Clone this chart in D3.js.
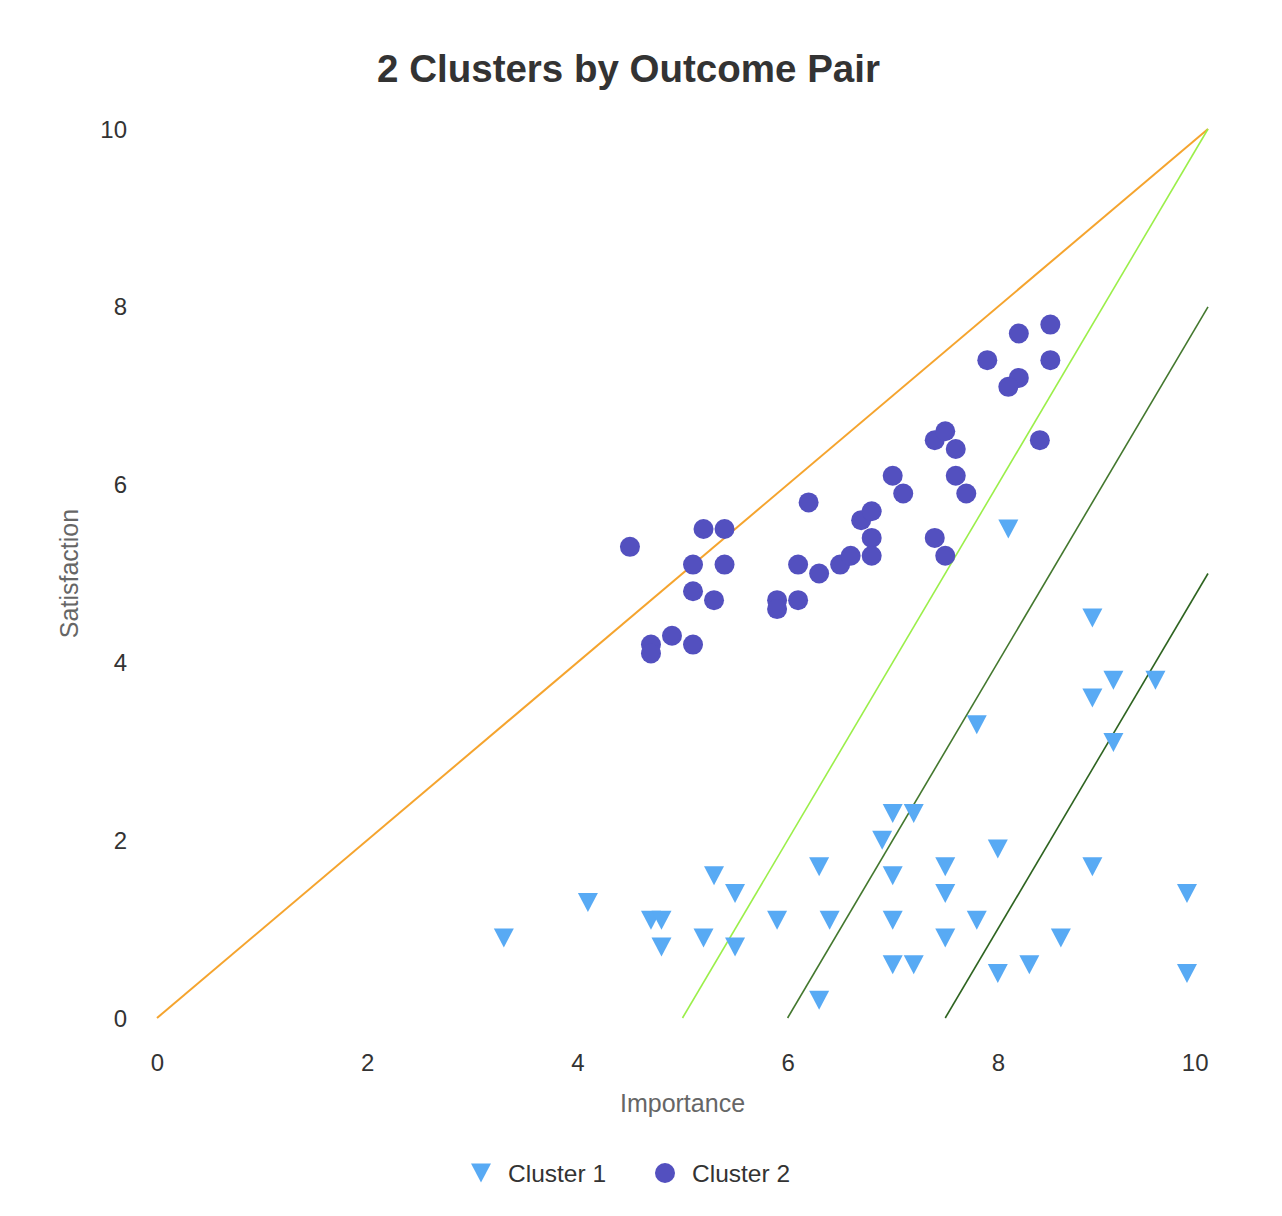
<!DOCTYPE html>
<html>
<head>
<meta charset="utf-8">
<script src="https://cdn.jsdelivr.net/npm/d3@7"></script>
<style>
  html, body { margin: 0; padding: 0; background: #fff; }
  svg { display: block; font-family: "Liberation Sans", Arial, Helvetica, sans-serif; }
</style>
</head>
<body>
<div id="chart"></div>
<script>
// ---------- data ----------
const chartTitle = "2 Clusters by Outcome Pair";
const xTitle = "Importance";
const yTitle = "Satisfaction";
const xTicks = [0, 2, 4, 6, 8, 10];
const yTicks = [0, 2, 4, 6, 8, 10];

// Cluster 1 (triangles): [importance, satisfaction]
const cluster1 = [
  [8.1, 5.5], [8.9, 4.5], [9.1, 3.8], [9.5, 3.8], [8.9, 3.6], [7.8, 3.3], [9.1, 3.1],
  [7.0, 2.3], [7.2, 2.3], [6.9, 2.0], [8.0, 1.9], [6.3, 1.7], [7.5, 1.7], [8.9, 1.7],
  [5.3, 1.6], [7.0, 1.6], [5.5, 1.4], [7.5, 1.4], [9.8, 1.4], [4.1, 1.3], [4.7, 1.1],
  [4.8, 1.1], [5.9, 1.1], [6.4, 1.1], [7.0, 1.1], [7.8, 1.1], [3.3, 0.9], [5.2, 0.9],
  [7.5, 0.9], [8.6, 0.9], [4.8, 0.8], [5.5, 0.8], [7.0, 0.6], [7.2, 0.6], [8.3, 0.6],
  [8.0, 0.5], [9.8, 0.5], [6.3, 0.2]
];

// Cluster 2 (circles): [importance, satisfaction]
const cluster2 = [
  [4.5, 5.3], [5.2, 5.5], [5.4, 5.5], [5.1, 5.1], [5.4, 5.1], [5.1, 4.8], [5.3, 4.7],
  [4.7, 4.2], [4.7, 4.1], [4.9, 4.3], [5.1, 4.2], [6.2, 5.8], [5.9, 4.7], [5.9, 4.6],
  [6.1, 5.1], [6.1, 4.7], [6.3, 5.0], [6.5, 5.1], [6.6, 5.2], [6.7, 5.6], [6.8, 5.7],
  [6.8, 5.4], [6.8, 5.2], [7.0, 6.1], [7.1, 5.9], [7.4, 6.5], [7.5, 6.6], [7.6, 6.4],
  [7.6, 6.1], [7.7, 5.9], [7.4, 5.4], [7.5, 5.2], [7.9, 7.4], [8.2, 7.7], [8.5, 7.8],
  [8.5, 7.4], [8.2, 7.2], [8.1, 7.1], [8.4, 6.5]
];

// Reference lines (endpoints in data units)
const refLineNames = ["diagonal", "opportunity 10", "opportunity 12", "opportunity 15"];
const refLinePoints = [
  [[0, 0], [10, 10]],
  [[5, 0], [10, 10]],
  [[6, 0], [10, 8]],
  [[7.5, 0], [10, 5]]
];
const refLineColors = ["#f5a42e", "#9bef4a", "#43782e", "#2e6420"];

const seriesNames = ["Cluster 1", "Cluster 2"];
const seriesColors = ["#58aaf4", "#5350bf"];

// ---------- layout ----------
const W = 1282, H = 1216;
const plot = { left: 157, right: 1208, top: 129, bottom: 1018 };

const svg = d3.select("#chart").append("svg")
  .attr("width", W).attr("height", H);

const x = d3.scaleLinear().domain([0, 10]).range([plot.left, plot.right]);
const y = d3.scaleLinear().domain([0, 10]).range([plot.bottom, plot.top]);

// title
svg.append("text")
  .attr("x", 628.5).attr("y", 82)
  .attr("text-anchor", "middle")
  .attr("font-size", 38.5).attr("font-weight", "bold")
  .attr("fill", "#333333")
  .text(chartTitle);

// axes (labels only)
const xAxis = d3.axisBottom(x).tickValues(xTicks).tickSize(0).tickPadding(0).tickFormat(d3.format("d"));
const gx = svg.append("g").attr("transform", `translate(0,${plot.bottom})`).call(xAxis);
gx.select(".domain").remove();
gx.selectAll("text")
  .attr("font-size", 24).attr("fill", "#333").attr("font-family", null)
  .attr("dy", null).attr("y", 53)
  .attr("text-anchor", d => d === 10 ? "end" : "middle");

const yAxis = d3.axisLeft(y).tickValues(yTicks).tickSize(0).tickPadding(0).tickFormat(d3.format("d"));
const gy = svg.append("g").attr("transform", `translate(${plot.left - 30},0)`).call(yAxis);
gy.select(".domain").remove();
gy.selectAll("text")
  .attr("font-size", 24).attr("fill", "#333").attr("font-family", null)
  .attr("dy", "0.34em").attr("x", 0);

// axis titles
svg.append("text")
  .attr("x", (plot.left + plot.right) / 2).attr("y", 1112)
  .attr("text-anchor", "middle").attr("font-size", 25).attr("fill", "#666")
  .text(xTitle);
svg.append("text")
  .attr("transform", `translate(78,${(plot.top + plot.bottom) / 2}) rotate(-90)`)
  .attr("text-anchor", "middle").attr("font-size", 25).attr("fill", "#666")
  .text(yTitle);

// reference lines
const line = d3.line().x(d => x(d[0])).y(d => y(d[1]));
svg.append("g").selectAll("path")
  .data(refLinePoints)
  .join("path")
  .attr("d", line)
  .attr("fill", "none")
  .attr("stroke", (d, i) => refLineColors[i])
  .attr("stroke-width", (d, i) => i === 0 ? 2 : 1.6);

// markers
const triPath = (cx, cy) => `M${cx - 10},${cy - 9.5}L${cx + 10},${cy - 9.5}L${cx},${cy + 9.5}Z`;

svg.append("g").selectAll("path")
  .data(cluster1)
  .join("path")
  .attr("d", d => triPath(x(d[0]), y(d[1])))
  .attr("fill", seriesColors[0]);

svg.append("g").selectAll("circle")
  .data(cluster2)
  .join("circle")
  .attr("cx", d => x(d[0])).attr("cy", d => y(d[1]))
  .attr("r", 10)
  .attr("fill", seriesColors[1]);

// legend
const legend = svg.append("g");
const legendItems = [
  { name: seriesNames[0], sx: 481, tx: 508 },
  { name: seriesNames[1], sx: 665, tx: 692 }
];
const ly = 1173;
legend.append("path").attr("d", triPath(legendItems[0].sx, ly)).attr("fill", seriesColors[0]);
legend.append("circle").attr("cx", legendItems[1].sx).attr("cy", ly).attr("r", 10).attr("fill", seriesColors[1]);
legend.selectAll("text")
  .data(legendItems)
  .join("text")
  .attr("x", d => d.tx).attr("y", ly)
  .attr("dy", "0.35em")
  .attr("font-size", 24.5).attr("fill", "#333")
  .text(d => d.name);
</script>
</body>
</html>
